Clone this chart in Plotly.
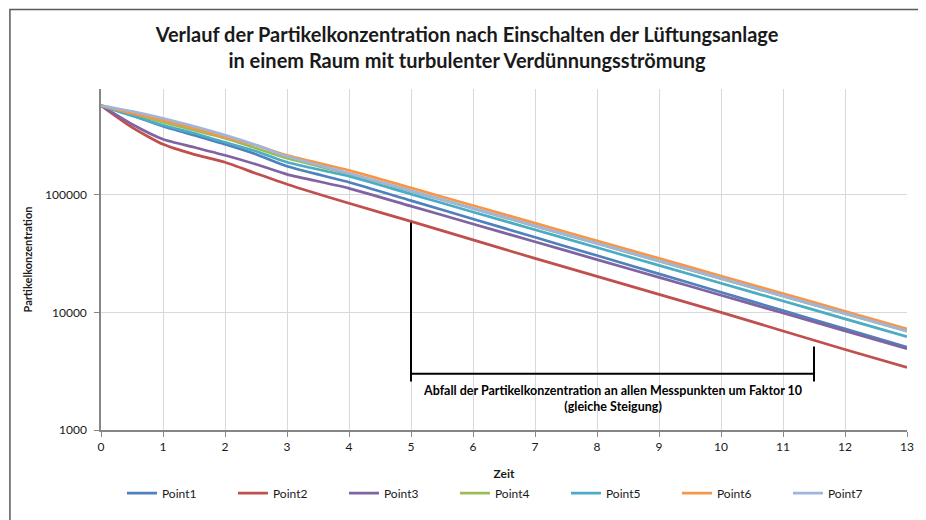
import plotly.graph_objects as go

zeit = [0, 0.5, 1, 1.5, 2, 2.5, 3, 4, 5, 6, 7, 8, 9, 10, 11, 12, 13]

point1 = [575000, 474900, 382800, 320900, 269000, 221200, 174800, 127800, 89240, 62360, 43560, 30430, 21270, 14860, 10380, 7251, 5067]
point2 = [575000, 375000, 269000, 221000, 189000, 152000, 123000, 84700, 59500, 41400, 28820, 20250, 14230, 10000, 6960, 4844, 3403]
point3 = [575000, 398100, 296700, 253700, 216900, 181800, 149400, 113600, 80130, 56530, 39890, 28140, 19860, 14010, 9883, 6973, 4919]
point4 = [575000, 484300, 414000, 353900, 302600, 248800, 204500, 150800, 107600, 76400, 54200, 38500, 27300, 19380, 13750, 9760, 6930]
point5 = [575000, 470000, 390400, 333800, 279800, 234600, 189100, 143700, 101400, 71520, 50470, 35610, 25120, 17720, 12510, 8820, 6223]
point6 = [575000, 493900, 430500, 368100, 308600, 263800, 216900, 161600, 114500, 81080, 57420, 40680, 28820, 20410, 14450, 10240, 7251]
point7 = [575000, 513500, 447800, 382800, 322000, 265000, 212700, 152400, 108100, 76760, 54480, 38660, 27440, 19470, 13820, 9806, 6960]

series_names = ["Point1", "Point2", "Point3", "Point4", "Point5", "Point6", "Point7"]
series_values = [point1, point2, point3, point4, point5, point6, point7]
colors = ["#4F81BD", "#C0504D", "#8064A2", "#9BBB59", "#4BACC6", "#F79646", "#9FB5DC"]

x_ticks = list(range(0, 14))
y_tickvals = [1000, 10000, 100000]
y_ticktext = ["1000", "10000", "100000"]

# annotation bracket (data values)
bracket_x = [5, 11.5]
bracket_top_left = 58300
bracket_top_right = 5136
bracket_level = 3008
bracket_bottom = 2587

title_text = ("<b>Verlauf der Partikelkonzentration nach Einschalten der Lüftungsanlage<br>"
              "in einem Raum mit turbulenter Verdünnungsströmung</b>")
note_text = ("<b>Abfall der Partikelkonzentration an allen Messpunkten um Faktor 10<br>"
             "(gleiche Steigung)</b>")

FONT = "Lato, Arial, sans-serif"

fig = go.Figure()
for name, vals, col in zip(series_names, series_values, colors):
    fig.add_trace(go.Scatter(
        x=zeit, y=vals, name=name, mode="lines",
        line=dict(color=col, width=2.7, shape="spline", smoothing=0.6),
    ))

bracket_style = dict(color="#000000", width=2)
fig.add_trace(go.Scatter(
    x=[bracket_x[0], bracket_x[0], None, bracket_x[1], bracket_x[1], None, bracket_x[0], bracket_x[1]],
    y=[bracket_top_left, bracket_bottom, None, bracket_top_right, bracket_bottom, None, bracket_level, bracket_level],
    mode="lines", line=bracket_style, showlegend=False, hoverinfo="skip",
))

fig.add_annotation(x=(bracket_x[0] + bracket_x[1]) / 2, y=3.478, xref="x", yref="y",
                   text=note_text, showarrow=False, yanchor="top", yshift=-7,
                   font=dict(family=FONT, size=12.5, color="#000000"), align="center")

# outer chart border
fig.add_shape(type="rect", xref="paper", yref="paper", x0=-0.113, x1=1.016, y0=-0.3, y1=1.233,
              line=dict(color="#5A5A5A", width=1.5), layer="below")

fig.update_layout(
    width=918, height=512,
    margin=dict(l=93, r=19, t=81, b=90),
    paper_bgcolor="white", plot_bgcolor="white",
    title=dict(text=title_text, x=0.5, xref="container", xanchor="center", y=0.933, yanchor="middle",
               font=dict(family=FONT, size=20, color="#1a1a1a")),
    font=dict(family=FONT, size=12, color="#1a1a1a"),
    showlegend=True,
    legend=dict(orientation="h", x=0.026, xanchor="left", y=-0.185, yanchor="middle",
                entrywidth=66, entrywidthmode="pixels",
                font=dict(family=FONT, size=12, color="#1a1a1a"), bgcolor="rgba(0,0,0,0)"),
)

fig.update_xaxes(
    range=[0, 13], tickmode="array", tickvals=x_ticks, ticktext=[str(v) for v in x_ticks],
    showgrid=True, gridcolor="#D9D9D9", gridwidth=1,
    showline=True, linecolor="#868686", linewidth=1.5,
    ticks="outside", ticklen=5, tickcolor="#868686",
    zeroline=False, tickfont=dict(size=12, color="#1a1a1a"), automargin=False,
    title=dict(text="<b>Zeit</b>", standoff=16, font=dict(size=12, color="#1a1a1a")),
)
fig.update_yaxes(
    type="log", range=[3, 5.9], tickmode="array", tickvals=y_tickvals, ticktext=y_ticktext,
    showgrid=True, gridcolor="#D9D9D9", gridwidth=1,
    showline=True, linecolor="#868686", linewidth=1.5,
    ticks="outside", ticklen=5, tickcolor="#868686",
    zeroline=False, tickfont=dict(size=12, color="#1a1a1a"), ticklabelstandoff=5, automargin=False,
    title=dict(text="<b>Partikelkonzentration</b>", standoff=10, font=dict(size=11, color="#1a1a1a")),
)

fig.write_html("out.html")
